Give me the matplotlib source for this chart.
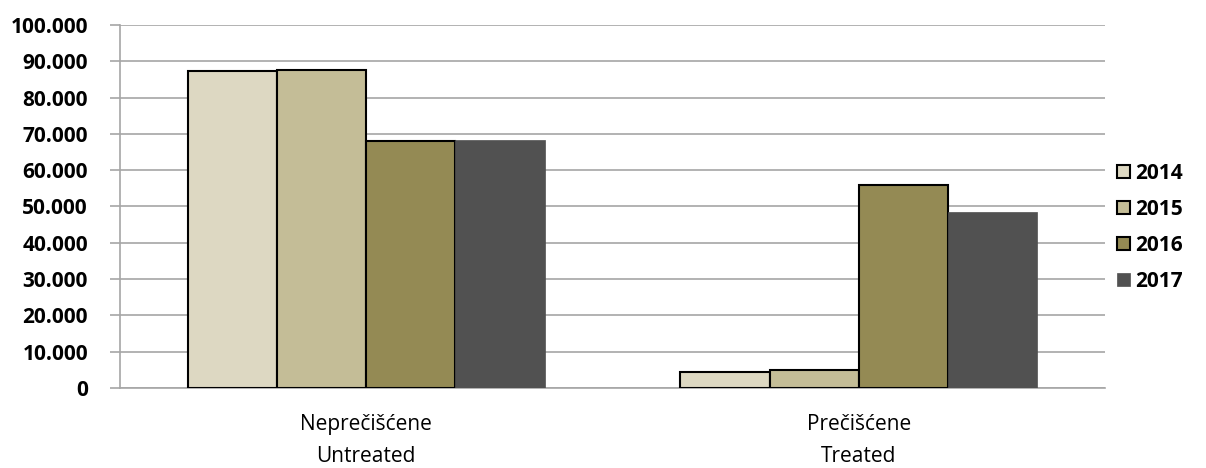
import numpy as np
import matplotlib
matplotlib.use("Agg")
import matplotlib.pyplot as plt
from matplotlib.ticker import FuncFormatter

# Datos
categorias = ["Neprečišćene\nUntreated", "Prečišćene\nTreated"]
anios = ["2014", "2015", "2016", "2017"]
valores = {
    "2014": [87400, 4300],
    "2015": [87700, 4900],
    "2016": [68100, 55900],
    "2017": [68400, 48500],
}
colores = ["#DDD8C2", "#C4BD97", "#948A54", "#515151"]
bordes = ["black", "black", "black", "#515151"]

fig = plt.figure(figsize=(12.06, 4.68), dpi=100)
ax = fig.add_axes([120 / 1206, 1 - 388 / 468, 985 / 1206, 363 / 468])

x = np.arange(len(categorias))
ancho = 0.181
for i, anio in enumerate(anios):
    ax.bar(x + (i - 1.5) * ancho, valores[anio], ancho, color=colores[i],
           edgecolor=bordes[i], linewidth=1.5 if i < 3 else 0.5,
           label=anio, zorder=3)

ax.set_xlim(-0.5, 1.5)
ax.set_ylim(0, 100000)
ax.set_yticks(np.arange(0, 100001, 10000))
ax.yaxis.set_major_formatter(FuncFormatter(lambda v, p: f"{int(v):,}".replace(",", ".")))
ax.yaxis.grid(True, color="#A6A6A6", linewidth=1.2, zorder=0)
ax.set_axisbelow(True)

for s in ["top", "right"]:
    ax.spines[s].set_visible(False)
for s in ["left", "bottom"]:
    ax.spines[s].set_color("#A6A6A6")
    ax.spines[s].set_linewidth(1.2)

ax.tick_params(axis="y", length=7, color="#A6A6A6", width=1.2, pad=16)
ax.tick_params(axis="x", length=0, pad=19)
ax.set_xticks(x)
ax.set_xticklabels(categorias, fontsize=15, family="Open Sans", linespacing=1.65)
for t in ax.get_yticklabels():
    t.set_fontfamily("Open Sans")
    t.set_fontweight("bold")
    t.set_fontsize(15)

fig.legend(loc="center left", bbox_to_anchor=(1109 / 1206, 1 - 227 / 468),
           frameon=False, handlelength=0.6, handleheight=0.6, handletextpad=0.25,
           labelspacing=0.72, borderaxespad=0,
           prop={"family": "Open Sans", "weight": "bold", "size": 15})

fig.savefig("out.png", dpi=100)
